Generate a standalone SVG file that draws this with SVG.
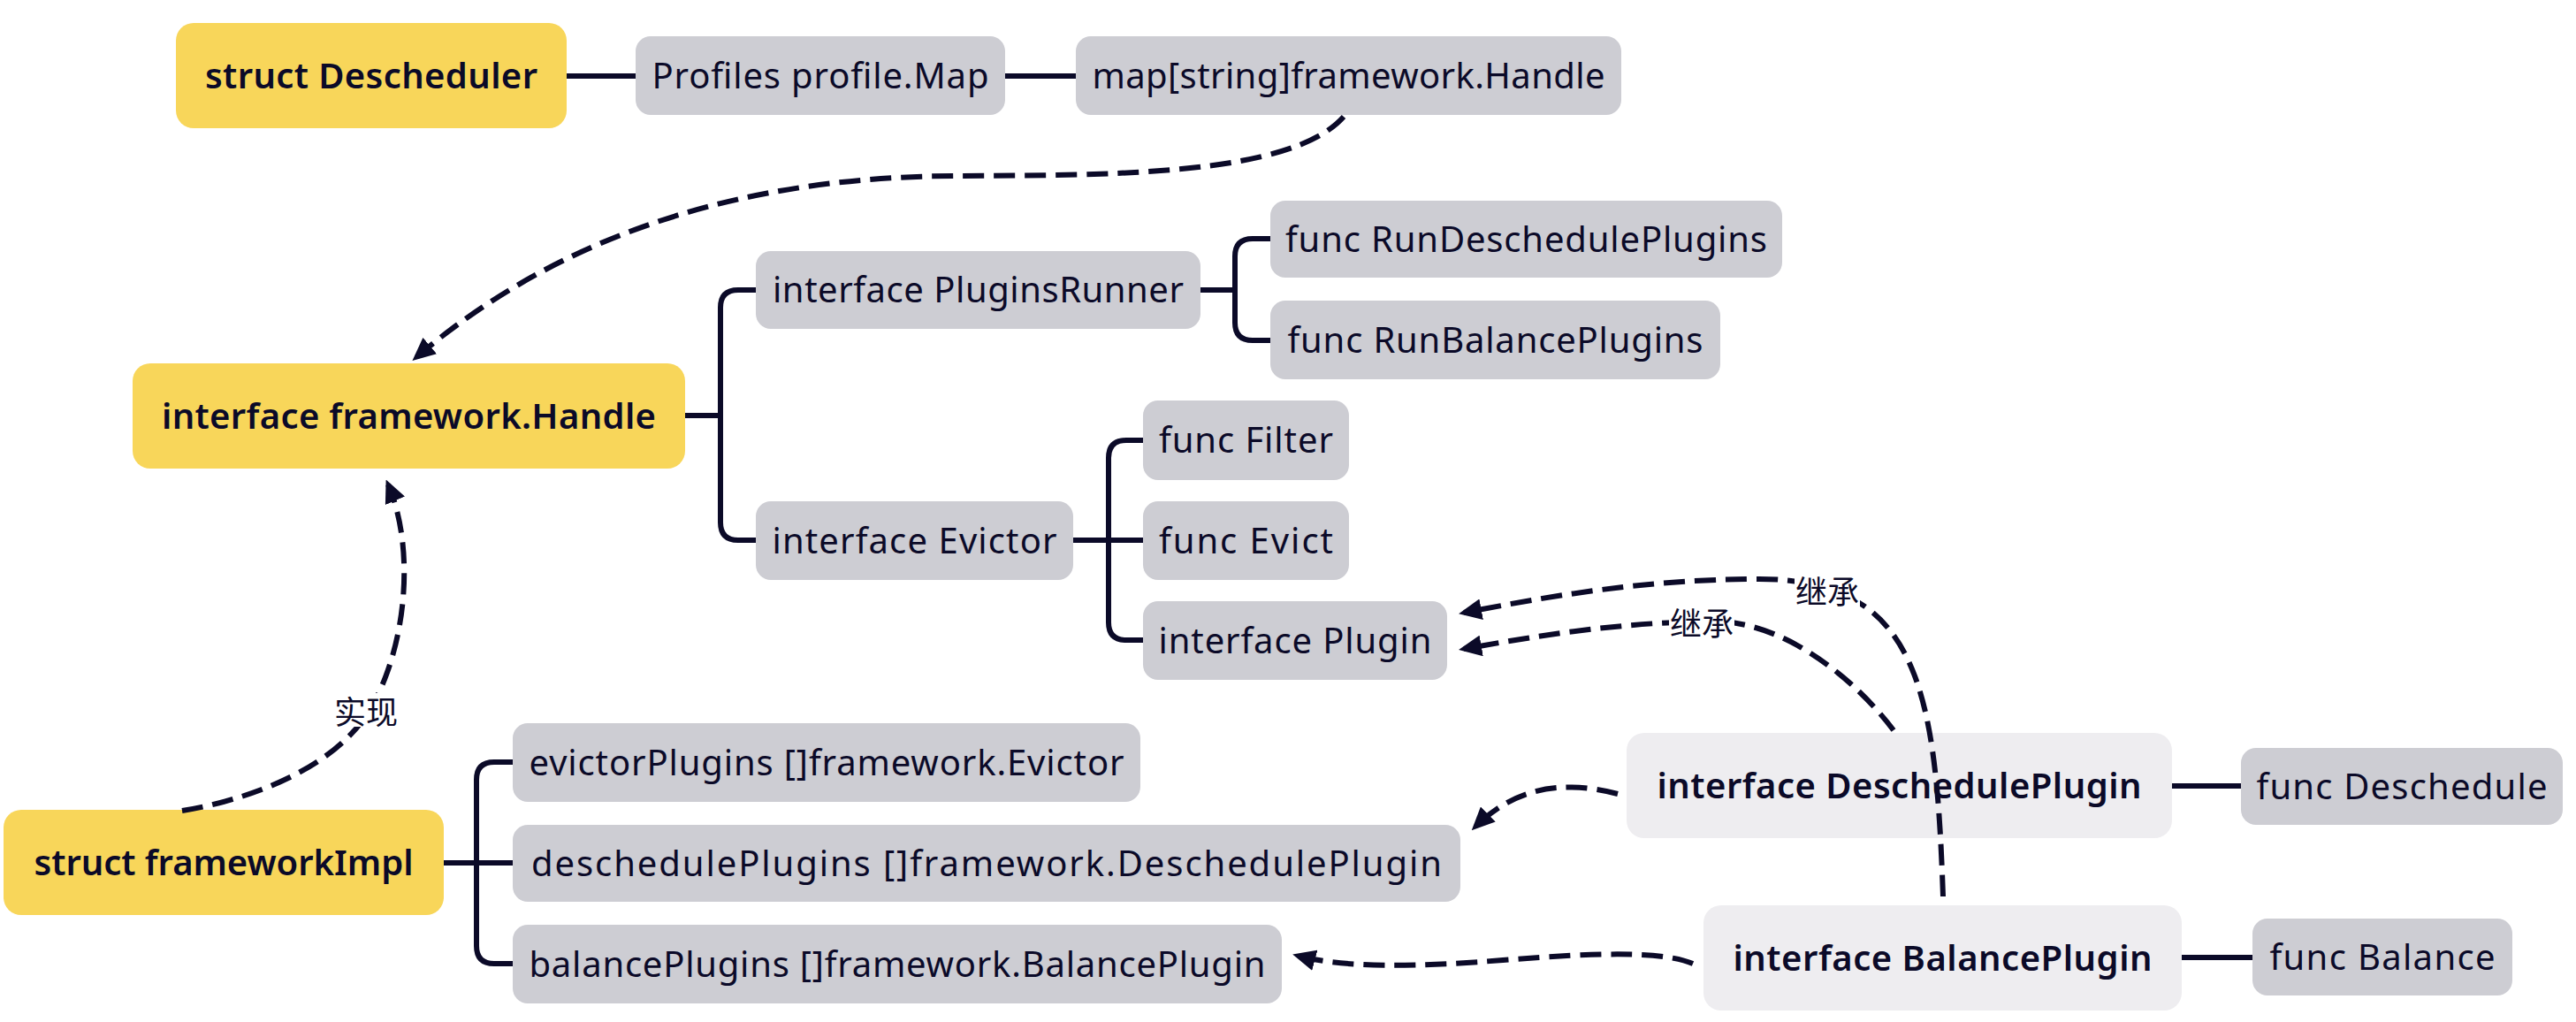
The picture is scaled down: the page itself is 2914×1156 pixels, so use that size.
<svg xmlns="http://www.w3.org/2000/svg" width="2914" height="1156" viewBox="0 0 2914 1156">
<style>
.y{fill:#F8D65A}
.g{fill:#CDCDD3}
.l{fill:#EEEDF0}
.t{font-family:"Noto Sans","Liberation Sans",sans-serif;font-size:40px;fill:#0B0A28;text-anchor:middle}
.b{font-weight:600}
.solid{fill:none;stroke:#0B0A28;stroke-width:6}
.dash{fill:none;stroke:#0B0A28;stroke-width:6;stroke-dasharray:24 11;marker-end:url(#ah)}
.cj{font-family:"Noto Sans CJK SC",sans-serif;font-size:36px;fill:#0B0A28;text-anchor:middle;dominant-baseline:central}
</style>
<defs>
<marker id="ah" markerUnits="userSpaceOnUse" markerWidth="26" markerHeight="24" viewBox="0 0 26 24" refX="20" refY="12" orient="auto"><path d="M0,0 L26,12 L0,24 z" fill="#0B0A28"/></marker>
</defs>
<rect width="2914" height="1156" fill="#FFFFFF"/>
<g id="nodes">
<g id="n-descheduler"><rect class="y" x="199" y="26" width="442" height="119" rx="20"/><text class="t b" x="420" y="100" textLength="376">struct Descheduler</text></g>
<g id="n-profiles"><rect class="g" x="719" y="41" width="418" height="89" rx="17"/><text class="t" x="928" y="100" textLength="381">Profiles profile.Map</text></g>
<g id="n-map"><rect class="g" x="1217" y="41" width="617" height="89" rx="17"/><text class="t" x="1525.5" y="100" textLength="580">map[string]framework.Handle</text></g>
<g id="n-handle"><rect class="y" x="150" y="411" width="625" height="119" rx="20"/><text class="t b" x="462.5" y="485" textLength="559">interface framework.Handle</text></g>
<g id="n-pluginsrunner"><rect class="g" x="855" y="284" width="503" height="88" rx="17"/><text class="t" x="1106.5" y="342" textLength="465">interface PluginsRunner</text></g>
<g id="n-rundeschedule"><rect class="g" x="1437" y="227" width="579" height="87" rx="17"/><text class="t" x="1726.5" y="285" textLength="545">func RunDeschedulePlugins</text></g>
<g id="n-runbalance"><rect class="g" x="1437" y="340" width="509" height="89" rx="17"/><text class="t" x="1691.5" y="399" textLength="470">func RunBalancePlugins</text></g>
<g id="n-filter"><rect class="g" x="1293" y="453" width="233" height="90" rx="17"/><text class="t" x="1409.5" y="512" textLength="197">func Filter</text></g>
<g id="n-evict"><rect class="g" x="1293" y="567" width="233" height="89" rx="17"/><text class="t" x="1409.5" y="626" textLength="197">func Evict</text></g>
<g id="n-evictor"><rect class="g" x="855" y="567" width="359" height="89" rx="17"/><text class="t" x="1034.5" y="626" textLength="322">interface Evictor</text></g>
<g id="n-plugin"><rect class="g" x="1293" y="680" width="344" height="89" rx="17"/><text class="t" x="1465" y="739" textLength="309">interface Plugin</text></g>
<g id="n-evictorplugins"><rect class="g" x="580" y="818" width="710" height="89" rx="17"/><text class="t" x="935" y="877" textLength="673">evictorPlugins []framework.Evictor</text></g>
<g id="n-descheduleplugins"><rect class="g" x="580" y="933" width="1072" height="87" rx="17"/><text class="t" x="1116" y="991" textLength="1030">deschedulePlugins []framework.DeschedulePlugin</text></g>
<g id="n-balanceplugins"><rect class="g" x="580" y="1046" width="870" height="89" rx="17"/><text class="t" x="1015" y="1105" textLength="833">balancePlugins []framework.BalancePlugin</text></g>
<g id="n-frameworkimpl"><rect class="y" x="4" y="916" width="498" height="119" rx="20"/><text class="t b" x="253" y="990" textLength="429">struct frameworkImpl</text></g>
<g id="n-deschedulePlugin"><rect class="l" x="1840" y="829" width="617" height="119" rx="20"/><text class="t b" x="2148.5" y="903" textLength="548">interface DeschedulePlugin</text></g>
<g id="n-deschedule"><rect class="g" x="2535" y="846" width="364" height="87" rx="17"/><text class="t" x="2717" y="904" textLength="329">func Deschedule</text></g>
<g id="n-balancePlugin"><rect class="l" x="1927" y="1024" width="541" height="119" rx="20"/><text class="t b" x="2197.5" y="1098" textLength="474">interface BalancePlugin</text></g>
<g id="n-balance"><rect class="g" x="2548" y="1039" width="294" height="87" rx="17"/><text class="t" x="2695" y="1097" textLength="255">func Balance</text></g>
</g>
<g id="connectors">
<path class="solid" d="M641,86 H719"/>
<path class="solid" d="M1137,86 H1217"/>
<path class="solid" d="M775,470 H815"/>
<path class="solid" d="M855,328 H835 Q815,328 815,348 V591 Q815,611 835,611 H855"/>
<path class="solid" d="M1358,328 H1397"/>
<path class="solid" d="M1437,270 H1417 Q1397,270 1397,290 V365 Q1397,385 1417,385 H1437"/>
<path class="solid" d="M1214,611 H1293"/>
<path class="solid" d="M1293,498 H1274 Q1254,498 1254,518 V704 Q1254,724 1274,724 H1293"/>
<path class="solid" d="M502,976 H580"/>
<path class="solid" d="M580,862 H559 Q539,862 539,882 V1070 Q539,1090 559,1090 H580"/>
<path class="solid" d="M2457,889 H2535"/>
<path class="solid" d="M2468,1083 H2548"/>
<path class="dash" d="M1520,132 C1460,200 1250,198 1080,199 C850,200 640,260 471,404"/>
<path class="dash" d="M206,917 C280,905 380,870 420,800 C460,730 470,620 439,548"/>
<path class="dash" d="M2198,1014 C2190,780 2170,655 1990,655 C1860,655 1750,675 1656,693"/>
<path class="dash" d="M2142,826 C2100,770 2020,703 1940,703 C1840,703 1745,718 1656,734"/>
<path class="dash" d="M1830,898 C1760,880 1710,895 1669,935"/>
<path class="dash" d="M1915,1090 C1880,1075 1800,1078 1700,1086 C1600,1094 1520,1095 1468,1081"/>
<g id="labels">
<rect x="376" y="784" width="76" height="38" fill="#FFFFFF"/>
<text class="cj" x="414" y="803">实现</text>
<rect x="2030" y="648" width="74" height="38" fill="#FFFFFF"/>
<text class="cj" x="2067" y="667">继承</text>
<rect x="1888" y="684" width="74" height="38" fill="#FFFFFF"/>
<text class="cj" x="1925" y="703">继承</text>
</g>
</g>
</svg>
